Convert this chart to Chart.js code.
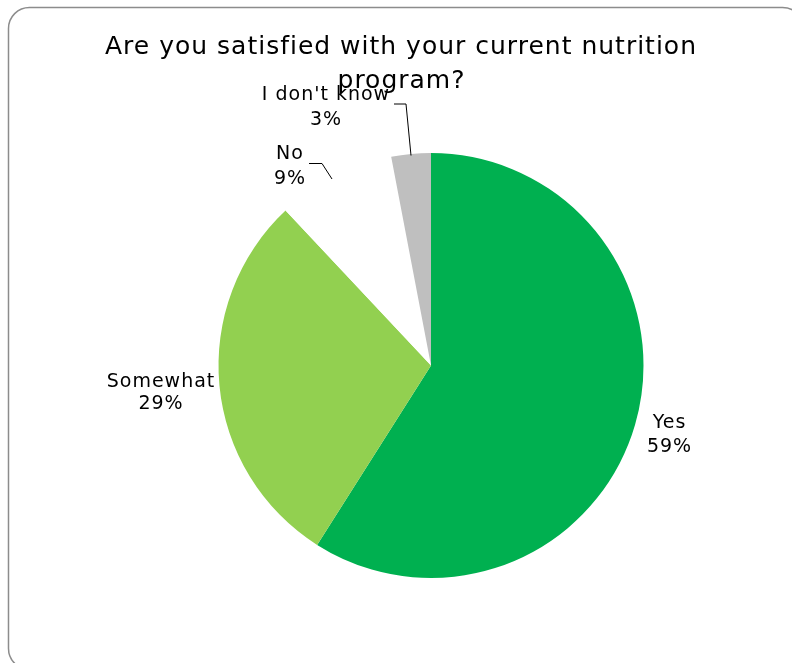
<!DOCTYPE html>
<html>
<head>
<meta charset="utf-8">
<script src="https://cdn.jsdelivr.net/npm/chart.js@4/dist/chart.umd.min.js"></script>
<style>
html,body{margin:0;padding:0;background:#fff;}
#wrap{width:792px;height:663px;position:relative;}
</style>
</head>
<body>
<div id="wrap"><canvas id="c" width="792" height="663"></canvas></div>
<script>
const categories = ["Yes", "Somewhat", "No", "I don't know"];
const values = [59, 29, 9, 3];
const percentLabels = ["59%", "29%", "9%", "3%"];
const colors = ["#00B050", "#92D050", "#FFFFFF", "#BFBFBF"];
const titleLines = ["Are you satisfied with your current nutrition", "program?"];

const FONT = '"DejaVu Sans", Verdana, sans-serif';

// label placement relative to pie center (styling only): x offset, baseline offsets
const labelOffsets = [
  {dx: 238, b1: 62.5, b2: 86.5},
  {dx: -270.5, b1: 21.5, b2: 43.5},
  {dx: -141.5, b1: -206.5, b2: -181.5},
  {dx: -105.5, b1: -265.5, b2: -240.5}
];

function spacedText(ctx, text, x, y, spacing) {
  if ('letterSpacing' in ctx) {
    ctx.letterSpacing = spacing + 'px';
    const w = ctx.measureText(text).width;
    ctx.textAlign = 'left';
    ctx.fillText(text, x - (w - spacing) / 2, y);
    ctx.letterSpacing = '0px';
  } else {
    ctx.textAlign = 'center';
    ctx.fillText(text, x, y);
  }
}

const decor = {
  id: 'decor',
  beforeDraw(chart) {
    const ctx = chart.ctx;
    ctx.save();
    ctx.fillStyle = '#fff';
    ctx.fillRect(0, 0, chart.width, chart.height);
    ctx.strokeStyle = '#8c8c8c';
    ctx.lineWidth = 1.5;
    ctx.beginPath();
    if (ctx.roundRect) ctx.roundRect(8.5, 7.5, 795, 662, 21);
    else ctx.rect(8.5, 7.5, 795, 662);
    ctx.stroke();
    ctx.restore();
  },
  afterDraw(chart) {
    const ctx = chart.ctx;
    const arc0 = chart.getDatasetMeta(0).data[0];
    const cx = arc0.x, cy = arc0.y;
    ctx.save();
    ctx.fillStyle = '#000';
    ctx.textBaseline = 'alphabetic';
    ctx.font = '25px ' + FONT;
    spacedText(ctx, titleLines[0], 400.5, 53.5, 1);
    spacedText(ctx, titleLines[1], 401, 87.5, 1);
    ctx.font = '19px ' + FONT;
    categories.forEach((c, i) => {
      const o = labelOffsets[i];
      spacedText(ctx, c, cx + o.dx, cy + o.b1, 1);
      spacedText(ctx, percentLabels[i], cx + o.dx, cy + o.b2, 1);
    });
    ctx.strokeStyle = '#000';
    ctx.lineWidth = 1;
    ctx.beginPath();
    ctx.moveTo(cx - 122, cy - 202);
    ctx.lineTo(cx - 109, cy - 202);
    ctx.lineTo(cx - 99, cy - 186.5);
    ctx.stroke();
    ctx.beginPath();
    ctx.moveTo(cx - 37, cy - 261.5);
    ctx.lineTo(cx - 25, cy - 261.5);
    ctx.lineTo(cx - 20, cy - 210);
    ctx.stroke();
    ctx.restore();
  }
};

new Chart(document.getElementById('c'), {
  type: 'pie',
  data: {
    labels: categories,
    datasets: [{
      data: values,
      backgroundColor: colors,
      borderWidth: 0
    }]
  },
  options: {
    responsive: false,
    animation: false,
    layout: { padding: { top: 153, bottom: 85, left: 218.5, right: 148.5 } },
    plugins: {
      legend: { display: false },
      title: { display: false },
      tooltip: { enabled: false }
    }
  },
  plugins: [decor]
});
</script>
</body>
</html>
